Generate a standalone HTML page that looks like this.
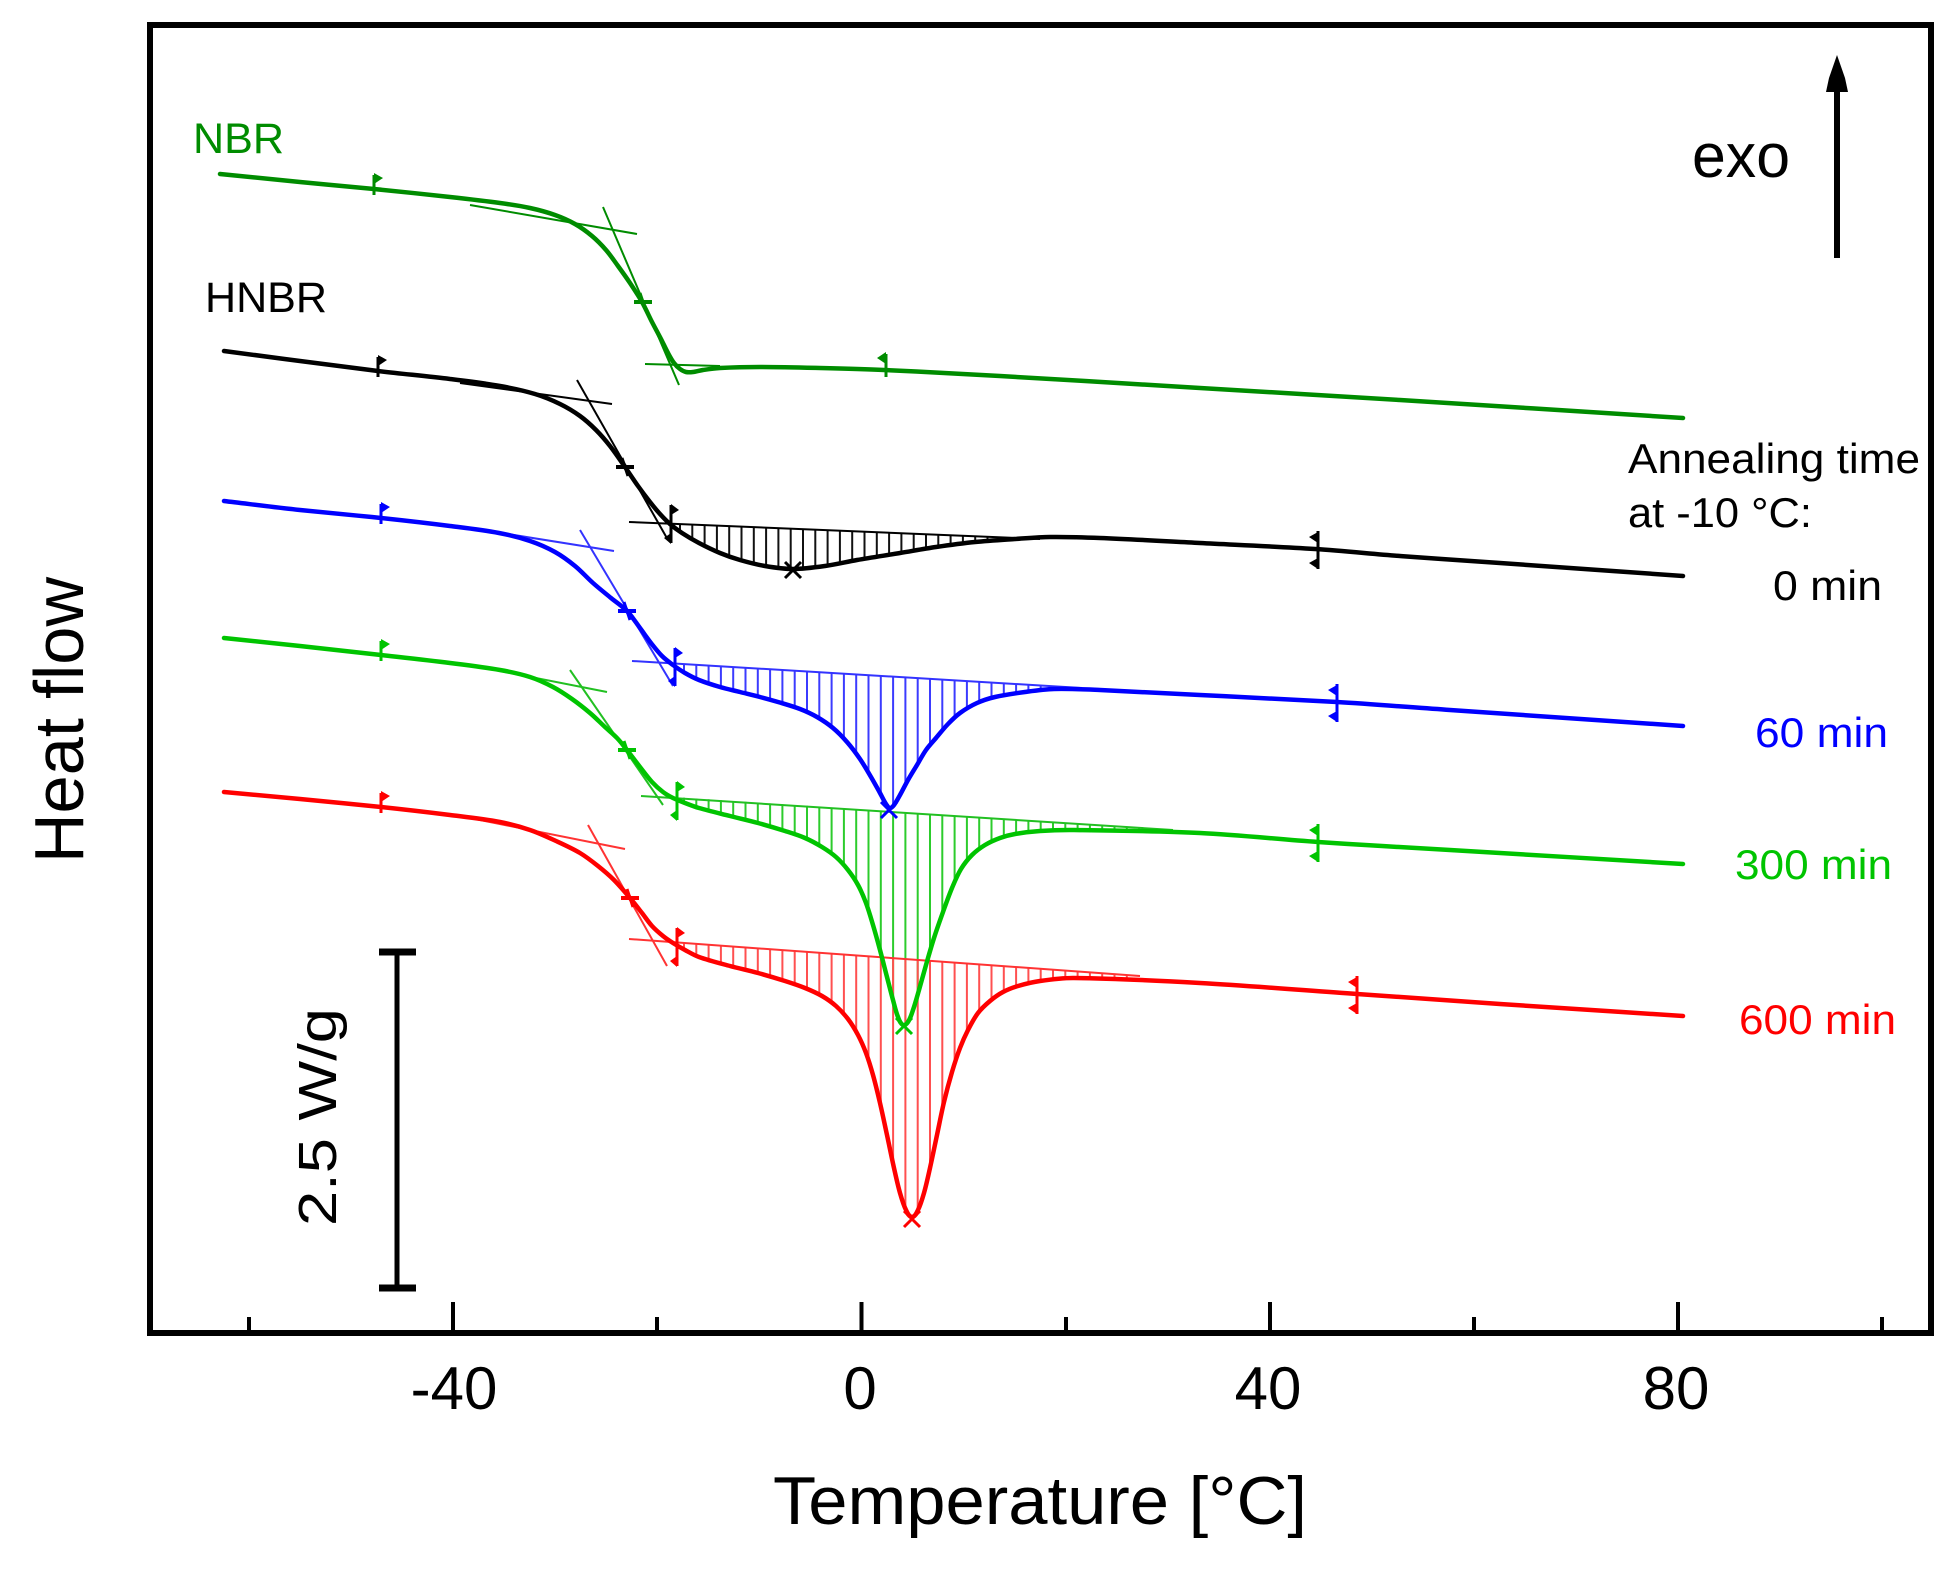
<!DOCTYPE html>
<html>
<head>
<meta charset="utf-8">
<style>
html,body{margin:0;padding:0;background:#fff;}
svg{display:block;}
text{font-family:"Liberation Sans",Arial,sans-serif;}
</style>
</head>
<body>
<svg id="chart" xmlns="http://www.w3.org/2000/svg" width="1955" height="1571" viewBox="0 0 1955 1571">
<defs>
  <g id="flagS">
    <line x1="0" y1="-14" x2="0" y2="6" stroke="currentColor" stroke-width="3"/>
    <polygon points="0,-16 9,-11 0,-5" fill="currentColor"/>
  </g>
  <g id="flagL">
    <line x1="0" y1="-15" x2="0" y2="8" stroke="currentColor" stroke-width="3"/>
    <polygon points="0,-17 -9,-11 0,-5" fill="currentColor"/>
  </g>
  <g id="stepE">
    <line x1="0" y1="-18" x2="0" y2="20" stroke="currentColor" stroke-width="3"/>
    <polygon points="0,-19 8,-13 0,-8" fill="currentColor"/>
    <polygon points="0,21 -7,15 0,10" fill="currentColor"/>
  </g>
  <g id="endM">
    <line x1="0" y1="-18" x2="0" y2="20" stroke="currentColor" stroke-width="3"/>
    <polygon points="0,-17 -9,-12 0,-6" fill="currentColor"/>
    <polygon points="0,20 -9,14 0,9" fill="currentColor"/>
  </g>
  <g id="plusM">
    <line x1="-9" y1="0" x2="9" y2="0" stroke="currentColor" stroke-width="4"/>
    <line x1="-3" y1="-9" x2="3" y2="9" stroke="currentColor" stroke-width="3"/>
  </g>
  <g id="crossM">
    <line x1="-8" y1="-8" x2="8" y2="8" stroke="currentColor" stroke-width="3"/>
    <line x1="-8" y1="8" x2="8" y2="-8" stroke="currentColor" stroke-width="3"/>
  </g>
</defs>

<rect x="0" y="0" width="1955" height="1571" fill="#fff"/>

<!-- hatching group (filled by script) -->
<g id="hatch"></g>

<!-- baselines for integration -->
<g stroke-width="2" fill="none">
  <line x1="629" y1="522" x2="1040" y2="539" stroke="#000"/>
  <line x1="632" y1="661" x2="1082" y2="688" stroke="#3333ff"/>
  <line x1="641" y1="796" x2="1173" y2="830" stroke="#22c022"/>
  <line x1="629" y1="939" x2="1140" y2="976" stroke="#ff3333"/>
</g>

<!-- tangent lines -->
<g stroke-width="2" fill="none">
  <line x1="470" y1="205" x2="637" y2="234" stroke="#008c00"/>
  <line x1="603" y1="207" x2="679" y2="385" stroke="#008c00"/>
  <line x1="645" y1="364" x2="720" y2="366" stroke="#008c00"/>

  <line x1="460" y1="383" x2="612" y2="404" stroke="#000"/>
  <line x1="577" y1="380" x2="668" y2="540" stroke="#000"/>

  <line x1="470" y1="528" x2="614" y2="551" stroke="#3333ff"/>
  <line x1="580" y1="530" x2="673" y2="686" stroke="#3333ff"/>

  <line x1="470" y1="665" x2="607" y2="692" stroke="#22c022"/>
  <line x1="570" y1="670" x2="663" y2="805" stroke="#22c022"/>

  <line x1="470" y1="818" x2="625" y2="849" stroke="#ff3333"/>
  <line x1="588" y1="825" x2="667" y2="966" stroke="#ff3333"/>
</g>

<!-- curves -->
<g id="curves" fill="none" stroke-width="4.5" stroke-linejoin="round" stroke-linecap="round">
  <polyline id="cNBR" stroke="#008c00" points="220,174 300,182 374,189 450,197 500,203 530,208 555,215 575,224 592,236 606,250 618,266 630,283 642,302 652,322 661,339 668,353 674,363 680,369 686,372 693,372 703,370 720,368 760,367 820,368 884,370 1000,376 1200,388 1400,400 1683,418"/>
  <polyline id="cBlack" stroke="#000" points="224,351 300,361 378,371 450,379 500,386 535,394 560,404 580,416 596,430 610,446 625,467 638,486 650,502 660,514 670,524 682,533 699,543 720,553 740,560 765,566 793,569 825,566 857,560 900,553 936,547 975,542 1015,539 1050,537 1100,538 1200,543 1315,549 1400,556 1500,563 1683,576"/>
  <polyline id="cBlue" stroke="#0000ff" points="224,501 300,510 381,518 450,526 499,533 530,541 555,552 575,566 593,583 611,598 627,611 640,628 651,643 662,656 673,665 685,673 699,680 720,687 740,692 760,697 778,702 800,709 817,717 833,728 847,742 860,759 871,777 880,793 886,804 890,808 894,805 900,795 908,780 917,765 926,750 936,738 948,724 960,713 977,703 995,697 1025,692 1054,689 1100,690 1200,695 1337,702 1450,710 1683,726"/>
  <polyline id="cGreen" stroke="#00c400" points="224,638 300,646 381,655 450,663 500,670 530,677 553,687 572,699 590,713 605,727 617,738 627,750 640,767 652,782 663,792 673,798 685,803 699,808 730,816 758,823 785,831 805,838 822,847 836,857 848,870 858,885 866,903 873,925 880,950 887,977 893,1000 898,1017 903,1025 908,1022 913,1010 919,990 926,965 934,938 943,912 952,888 961,869 972,855 985,845 1000,838 1015,834 1040,831 1074,830 1200,833 1318,842 1450,850 1683,864"/>
  <polyline id="cRed" stroke="#ff0000" points="224,792 300,799 381,807 450,815 500,822 530,830 556,841 580,853 598,866 614,880 630,898 642,913 652,926 663,936 673,943 685,950 699,957 730,966 758,973 785,981 805,988 822,996 836,1006 848,1019 858,1035 866,1053 873,1075 880,1103 887,1135 894,1168 900,1193 906,1210 912,1217 918,1210 924,1193 930,1168 937,1135 944,1102 952,1072 960,1048 968,1030 978,1013 990,1001 1003,992 1018,986 1040,981 1074,978 1200,983 1357,994 1500,1004 1683,1016"/>
</g>

<!-- markers -->
<g>
  <use href="#flagS" x="374" y="189" style="color:#008c00"/>
  <use href="#plusM" x="643" y="302" style="color:#008c00"/>
  <use href="#flagL" x="886" y="369" style="color:#008c00"/>

  <use href="#flagS" x="378" y="371" style="color:#000"/>
  <use href="#plusM" x="625" y="467" style="color:#000"/>
  <use href="#stepE" x="671" y="523" style="color:#000"/>
  <use href="#crossM" x="793" y="570" style="color:#000"/>
  <use href="#endM" x="1318" y="549" style="color:#000"/>

  <use href="#flagS" x="381" y="518" style="color:#0000ff"/>
  <use href="#plusM" x="627" y="611" style="color:#0000ff"/>
  <use href="#stepE" x="675" y="666" style="color:#0000ff"/>
  <use href="#crossM" x="889" y="810" style="color:#0000ff"/>
  <use href="#endM" x="1337" y="702" style="color:#0000ff"/>

  <use href="#flagS" x="381" y="655" style="color:#00c400"/>
  <use href="#plusM" x="627" y="750" style="color:#00c400"/>
  <use href="#stepE" x="677" y="800" style="color:#00c400"/>
  <use href="#crossM" x="904" y="1026" style="color:#00c400"/>
  <use href="#endM" x="1318" y="842" style="color:#00c400"/>

  <use href="#flagS" x="381" y="807" style="color:#ff0000"/>
  <use href="#plusM" x="630" y="898" style="color:#ff0000"/>
  <use href="#stepE" x="677" y="946" style="color:#ff0000"/>
  <use href="#crossM" x="912" y="1219" style="color:#ff0000"/>
  <use href="#endM" x="1357" y="994" style="color:#ff0000"/>
</g>

<!-- frame -->
<rect x="150" y="25" width="1781" height="1308" fill="none" stroke="#000" stroke-width="6"/>

<!-- ticks -->
<g stroke="#000" stroke-width="4">
  <line x1="453" y1="1331" x2="453" y2="1302"/>
  <line x1="861.5" y1="1331" x2="861.5" y2="1302"/>
  <line x1="1270" y1="1331" x2="1270" y2="1302"/>
  <line x1="1678" y1="1331" x2="1678" y2="1302"/>
  <line x1="249" y1="1331" x2="249" y2="1317"/>
  <line x1="657" y1="1331" x2="657" y2="1317"/>
  <line x1="1066" y1="1331" x2="1066" y2="1317"/>
  <line x1="1474" y1="1331" x2="1474" y2="1317"/>
  <line x1="1882" y1="1331" x2="1882" y2="1317"/>
</g>

<!-- tick labels -->
<g font-size="60" fill="#000" text-anchor="middle">
  <text x="454" y="1409">-40</text>
  <text x="860" y="1409">0</text>
  <text x="1268" y="1409">40</text>
  <text x="1676" y="1409">80</text>
</g>

<!-- axis titles -->
<text x="773" y="1524" font-size="68" textLength="534" lengthAdjust="spacingAndGlyphs">Temperature [°C]</text>
<text transform="translate(83,863) rotate(-90)" font-size="70" textLength="286" lengthAdjust="spacingAndGlyphs">Heat flow</text>

<!-- scale bar -->
<g stroke="#000">
  <line x1="397" y1="952" x2="397" y2="1288" stroke-width="5"/>
  <line x1="379" y1="952" x2="416" y2="952" stroke-width="7"/>
  <line x1="379" y1="1288" x2="416" y2="1288" stroke-width="7"/>
</g>
<text transform="translate(336,1226) rotate(-90)" font-size="54" textLength="218" lengthAdjust="spacingAndGlyphs">2.5 W/g</text>

<!-- exo arrow -->
<text x="1692" y="177" font-size="62" textLength="98" lengthAdjust="spacingAndGlyphs">exo</text>
<line x1="1837" y1="88" x2="1837" y2="258" stroke="#000" stroke-width="6"/>
<polygon points="1837,55 1829,78 1826,92 1848,92 1845,78" fill="#000"/>

<!-- curve labels -->
<text x="193" y="153" font-size="43" fill="#008c00" textLength="91" lengthAdjust="spacingAndGlyphs">NBR</text>
<text x="205" y="312" font-size="43" fill="#000" textLength="122" lengthAdjust="spacingAndGlyphs">HNBR</text>

<g font-size="42">
  <text x="1628" y="473" textLength="292" lengthAdjust="spacingAndGlyphs">Annealing time</text>
  <text x="1628" y="527" textLength="184" lengthAdjust="spacingAndGlyphs">at -10 °C:</text>
  <text x="1773" y="600" textLength="109" lengthAdjust="spacingAndGlyphs">0 min</text>
  <text x="1755" y="747" fill="#0000ff" textLength="133" lengthAdjust="spacingAndGlyphs">60 min</text>
  <text x="1735" y="879" fill="#00c400" textLength="157" lengthAdjust="spacingAndGlyphs">300 min</text>
  <text x="1739" y="1034" fill="#ff0000" textLength="157" lengthAdjust="spacingAndGlyphs">600 min</text>
</g>
</svg>

<script>
(function(){
  var NS="http://www.w3.org/2000/svg";
  function pts(id){
    var s=document.getElementById(id).getAttribute("points").trim().split(/\s+/);
    return s.map(function(p){var a=p.split(",");return [parseFloat(a[0]),parseFloat(a[1])];});
  }
  function interp(P,x){
    for(var i=0;i<P.length-1;i++){
      if(x>=P[i][0]&&x<=P[i+1][0]){
        var t=(x-P[i][0])/(P[i+1][0]-P[i][0]);
        return P[i][1]+t*(P[i+1][1]-P[i][1]);
      }
    }
    return null;
  }
  var g=document.getElementById("hatch");
  function hatch(id,x0,y0,x1,y1,xs,xe,col,step){
    var P=pts(id);
    for(var x=xs;x<=xe;x+=step){
      var yb=y0+(y1-y0)*(x-x0)/(x1-x0);
      var yc=interp(P,x);
      if(yc===null||yc-yb<1.5) continue;
      var l=document.createElementNS(NS,"line");
      l.setAttribute("x1",x.toFixed(1));l.setAttribute("x2",x.toFixed(1));
      l.setAttribute("y1",yb.toFixed(1));l.setAttribute("y2",yc.toFixed(1));
      l.setAttribute("stroke",col);l.setAttribute("stroke-width","2");
      g.appendChild(l);
    }
  }
  hatch("cBlack",629,522,1040,539,680,1030,"#111",12.3);
  hatch("cBlue",673,663,1082,688,684,1078,"#3b3bff",12.3);
  hatch("cGreen",673,797,1173,830,684,1168,"#2ccc2c",12.3);
  hatch("cRed",673,942,1140,976,684,1136,"#ff5050",12.3);

  /* smooth curves (Catmull-Rom -> cubic Bezier) */
  function f(v){return v.toFixed(2);}
  ["cNBR","cBlack","cBlue","cGreen","cRed"].forEach(function(id){
    var el=document.getElementById(id);
    var P=pts(id), n=P.length;
    var d="M"+f(P[0][0])+","+f(P[0][1]);
    for(var i=0;i<n-1;i++){
      var p0=P[i>0?i-1:i], p1=P[i], p2=P[i+1], p3=P[i+2<n?i+2:i+1];
      var d1=Math.hypot(p2[0]-p1[0],p2[1]-p1[1]);
      var da=Math.hypot(p2[0]-p0[0],p2[1]-p0[1])||1;
      var db=Math.hypot(p3[0]-p1[0],p3[1]-p1[1])||1;
      var k1=d1/da/3, k2=d1/db/3;
      var c1=[p1[0]+(p2[0]-p0[0])*k1, p1[1]+(p2[1]-p0[1])*k1];
      var c2=[p2[0]-(p3[0]-p1[0])*k2, p2[1]-(p3[1]-p1[1])*k2];
      d+=" C"+f(c1[0])+","+f(c1[1])+" "+f(c2[0])+","+f(c2[1])+" "+f(p2[0])+","+f(p2[1]);
    }
    var path=document.createElementNS(NS,"path");
    path.setAttribute("d",d);
    path.setAttribute("stroke",el.getAttribute("stroke"));
    el.parentNode.insertBefore(path,el);
    el.style.display="none";
  });
})();
</script>
</body>
</html>
